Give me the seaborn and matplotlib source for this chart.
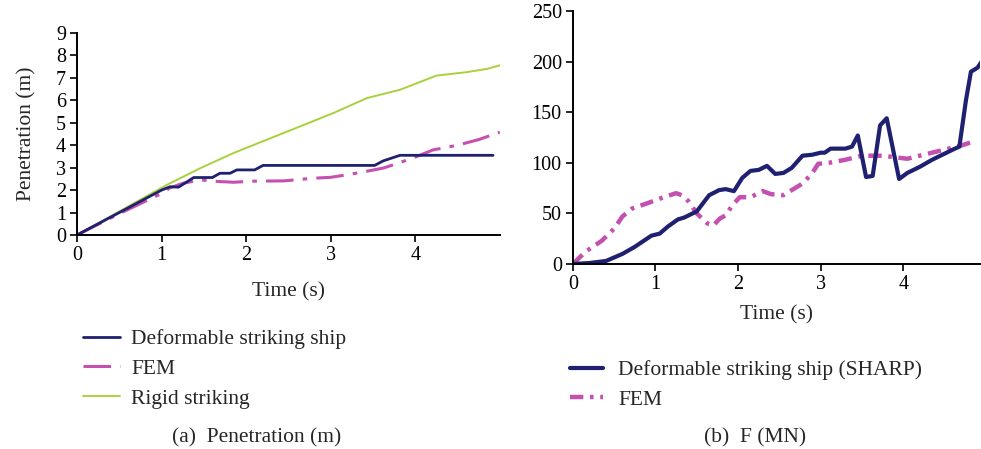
import numpy as np
import pandas as pd
import matplotlib
matplotlib.use("Agg")
import matplotlib.pyplot as plt
import seaborn as sns

# (a) penetration (m) vs time (s)
t_def = [0, 0.5, 1.0, 1.1, 1.2, 1.38, 1.6, 1.69, 1.81, 1.89, 2.1, 2.2, 3.52, 3.62, 3.82, 4.92]
p_def = [0, 1.0, 2.0, 2.15, 2.13, 2.56, 2.56, 2.75, 2.75, 2.9, 2.9, 3.1, 3.1, 3.3, 3.55, 3.55]

t_fem = [0, 0.5, 1.0, 1.1, 1.25, 1.46, 1.6, 1.85, 2.1, 2.44, 2.8, 3.0, 3.19, 3.4, 3.62, 3.8, 4.02, 4.21, 4.5, 4.75, 5.0]
p_fem = [0, 0.95, 1.85, 2.1, 2.3, 2.46, 2.4, 2.35, 2.4, 2.41, 2.53, 2.57, 2.68, 2.82, 2.98, 3.2, 3.5, 3.79, 4.0, 4.25, 4.58]

t_rig = [0, 0.5, 1.06, 1.46, 1.85, 2.24, 2.64, 3.03, 3.43, 3.82, 4.25, 4.6, 4.85, 5.0]
p_rig = [0, 1.05, 2.23, 2.98, 3.65, 4.24, 4.84, 5.43, 6.1, 6.47, 7.1, 7.25, 7.4, 7.56]

# (b) force (MN) vs time (s)
t_sharp = [0, 0.2, 0.4, 0.6, 0.75, 0.95, 1.05, 1.15, 1.27, 1.35, 1.5, 1.65, 1.77, 1.85, 1.95,
           2.05, 2.15, 2.25, 2.35, 2.45, 2.55, 2.65, 2.78, 2.9, 3.0, 3.05, 3.12, 3.3, 3.38,
           3.45, 3.55, 3.63, 3.72, 3.8, 3.95, 4.05, 4.2, 4.35, 4.5, 4.6, 4.68, 4.76, 4.82, 4.9, 4.95]
f_sharp = [0, 1, 3, 10, 17, 28, 30, 37, 44, 46, 52, 68, 73, 74, 72,
           85, 92, 93, 97, 89, 90, 95, 107, 108, 110, 110, 114, 114, 116,
           127, 86, 87, 137, 144, 84, 90, 96, 103, 109, 113, 116, 162, 190, 194, 200]

t_fem2 = [0, 0.15, 0.35, 0.5, 0.6, 0.72, 0.9, 1.1, 1.25, 1.32, 1.4, 1.5, 1.63, 1.7, 1.78, 1.85,
          1.93, 2.02, 2.15, 2.3, 2.4, 2.55, 2.65, 2.75, 2.8, 2.9, 2.97, 3.1, 3.3, 3.5, 3.75,
          3.95, 4.05, 4.25, 4.5, 4.7, 4.85]
f_fem2 = [0, 12, 23, 35, 47, 55, 60, 66, 70, 68, 62, 50, 40, 38, 45, 48,
          58, 66, 66, 72, 69, 68, 73, 78, 81, 90, 99, 100, 103, 107, 107,
          105, 104, 108, 113, 117, 121]

navy = "#1f2070"
magenta = "#c450b0"
green = "#a8d13c"

sns.set_theme(style="ticks")
plt.rcParams["font.family"] = ["Liberation Serif", "DejaVu Serif"]

fig = plt.figure(figsize=(9.81, 4.49), dpi=100)
ax1 = fig.add_axes([0.0785, 0.4766, 0.431, 0.45])
ax2 = fig.add_axes([0.584, 0.412, 0.415, 0.5635])

df_a = pd.concat([
    pd.DataFrame({"t": t_def, "v": p_def, "s": "Deformable striking ship"}),
    pd.DataFrame({"t": t_fem, "v": p_fem, "s": "FEM"}),
    pd.DataFrame({"t": t_rig, "v": p_rig, "s": "Rigid striking"}),
])
df_b = pd.concat([
    pd.DataFrame({"t": t_sharp, "v": f_sharp, "s": "Deformable striking ship (SHARP)"}),
    pd.DataFrame({"t": t_fem2, "v": f_fem2, "s": "FEM"}),
])

sns.lineplot(data=df_a[df_a.s == "Rigid striking"], x="t", y="v", ax=ax1, color=green, lw=1.4,
             label="Rigid striking", sort=False, estimator=None)
sns.lineplot(data=df_a[df_a.s == "FEM"], x="t", y="v", ax=ax1, color=magenta, lw=2.2,
             label="FEM", sort=False, estimator=None)
ax1.lines[-1].set_dashes([9, 3, 1.5, 3])
sns.lineplot(data=df_a[df_a.s == "Deformable striking ship"], x="t", y="v", ax=ax1, color=navy,
             lw=2.0, label="Deformable striking ship", sort=False, estimator=None)

sns.lineplot(data=df_b[df_b.s == "FEM"], x="t", y="v", ax=ax2, color=magenta, lw=3.2,
             label="FEM", sort=False, estimator=None)
ax2.lines[-1].set_dashes([3, 1.5, 0.8, 1.5])
sns.lineplot(data=df_b[df_b.s != "FEM"], x="t", y="v", ax=ax2, color=navy, lw=3.0,
             label="Deformable striking ship (SHARP)", sort=False, estimator=None)

fs = 15.5
tfs = 14.5
for ax in (ax1, ax2):
    sns.despine(ax=ax)
    for sp in ("left", "bottom"):
        ax.spines[sp].set_linewidth(1.4)
        ax.spines[sp].set_color("black")
    ax.tick_params(axis="both", direction="out", length=5, width=1.2, labelsize=tfs, pad=3,
                   colors="black")
    ax.set_xticks([0, 1, 2, 3, 4])
    ax.grid(False)

ax1.set_xlim(0, 5.0)
ax1.set_ylim(0, 9)
ax1.set_yticks(range(0, 10))
ax1.set_ylabel("Penetration (m)", fontsize=fs, labelpad=14)
ax1.set_xlabel("Time (s)", fontsize=fs, labelpad=12)

ax2.set_xlim(0, 4.93)
ax2.set_ylim(0, 250)
ax2.set_yticks(range(0, 251, 50))
ax2.set_ylabel("")
ax2.set_xlabel("Time (s)", fontsize=fs, labelpad=8)

# legends below each panel, in the order of the reference
h1, l1 = ax1.get_legend_handles_labels()
order1 = ["Deformable striking ship", "FEM", "Rigid striking"]
hs1 = [h1[l1.index(k)] for k in order1]
ax1.legend(hs1, order1, loc="upper left", bbox_to_anchor=(83 / 981, 1 - 329 / 449),
           bbox_transform=fig.transFigure, frameon=False, fontsize=fs, handlelength=1.7,
           handletextpad=0.55, labelspacing=0.45, borderaxespad=0, borderpad=0)

h2, l2 = ax2.get_legend_handles_labels()
order2 = ["Deformable striking ship (SHARP)", "FEM"]
hs2 = [h2[l2.index(k)] for k in order2]
ax2.legend(hs2, order2, loc="upper left", bbox_to_anchor=(570 / 981, 1 - 360 / 449),
           bbox_transform=fig.transFigure, frameon=False, fontsize=fs, handlelength=1.55,
           handletextpad=0.7, labelspacing=0.45, borderaxespad=0, borderpad=0)

fig.text(257 / 981, 1 - 438 / 449, "(a)  Penetration (m)", ha="center", va="center", fontsize=fs)
fig.text(755 / 981, 1 - 438 / 449, "(b)  F (MN)", ha="center", va="center", fontsize=fs)

fig.savefig("out.png", dpi=100)
